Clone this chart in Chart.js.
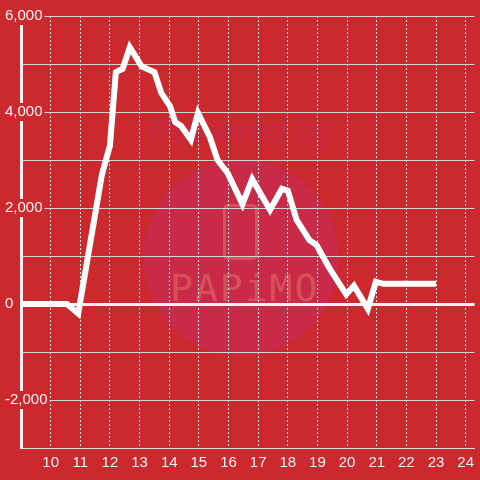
<!DOCTYPE html>
<html>
<head>
<meta charset="utf-8">
<script src="https://cdn.jsdelivr.net/npm/chart.js@4"></script>
<style>
  html, body { margin: 0; padding: 0; background: #cc292e; }
  #wrap { position: relative; width: 480px; height: 480px; overflow: hidden; }
  #mark { position: absolute; left: 0; top: 0; width: 480px; height: 480px; }
  #mark .circle { position: absolute; left: 143px; top: 160px; width: 196px; height: 196px; border-radius: 50%; background: #c92a47; }
  #mark .by { position: absolute; left: 150px; top: 112px; font: italic bold 33px "Liberation Sans", Arial, sans-serif; color: #c6283f; }
  #mark .icon { position: absolute; left: 223px; top: 204px; width: 29px; height: 50px; border: 3px solid #d6515c; border-radius: 5px; }
  #mark .name { position: absolute; left: 170px; top: 266px; font: 38px "DejaVu Sans Mono", monospace; letter-spacing: 2px; color: #d6515c; }
  canvas { position: absolute; left: 0; top: 0; }
</style>
</head>
<body>
<div id="wrap">
  <div id="mark">
    <div class="circle"></div>
    <div class="by">Powered by</div>
    <div class="icon"></div>
    <div class="name">PAPiMO</div>
  </div>
  <canvas id="chart" width="480" height="480"></canvas>
</div>
<script>
// hours of the day and values
const hours = [8.85, 10.55, 10.93, 11.73, 12.0, 12.2, 12.43, 12.67, 13.07, 13.5, 13.73, 14.03, 14.2, 14.4, 14.73, 14.97, 15.37, 15.63, 15.97, 16.47, 16.8, 17.4, 17.8, 18.0, 18.3, 18.73, 18.97, 19.4, 19.97, 20.23, 20.7, 20.97, 21.23, 23.0];
const values = [0, 0, -200, 2700, 3300, 4830, 4900, 5350, 4950, 4830, 4400, 4120, 3790, 3710, 3420, 3980, 3480, 3000, 2730, 2080, 2600, 1960, 2400, 2360, 1750, 1330, 1230, 750, 200, 380, -100, 460, 420, 420];
const yMin = -3000;
const yMax = 6000;
const xMin = 9;
const xMax = 24.3;

const points = hours.map((h, i) => ({ x: h, y: values[i] }));
const labelColor = '#f2f2f2';
const bg = '#cc292e';

new Chart(document.getElementById('chart'), {
  type: 'line',
  data: {
    datasets: [{
      data: points,
      borderColor: '#ffffff',
      borderWidth: 6,
      pointRadius: 0,
      tension: 0,
      fill: false
    }]
  },
  options: {
    responsive: false,
    animation: false,
    layout: { padding: { left: 4, top: 16, right: 0, bottom: 0 } },
    plugins: { legend: { display: false }, tooltip: { enabled: false } },
    scales: {
      x: {
        type: 'linear',
        min: xMin,
        max: xMax,
        afterFit: s => { s.height = 32; },
        grid: { color: 'rgba(255,255,255,0.85)', lineWidth: 1, drawTicks: false },
        border: { color: '#dddddd', width: 1, dash: [2, 2] },
        ticks: {
          stepSize: 1,
          includeBounds: false,
          autoSkip: false,
          maxRotation: 0,
          padding: 6,
          color: labelColor,
          font: { family: '"Liberation Sans", Arial, sans-serif', size: 15 },
          callback: v => (v === xMin ? '' : v)
        }
      },
      y: {
        min: yMin,
        max: yMax,
        afterFit: s => { s.width = 17; },
        grid: {
          drawTicks: false,
          color: ctx => (ctx.tick && ctx.tick.value === 0 ? '#f4f4f4' : '#d4d4d4'),
          lineWidth: ctx => (ctx.tick && ctx.tick.value === 0 ? 3 : 1)
        },
        border: { color: '#f4f4f4', width: 3 },
        ticks: {
          stepSize: 1000,
          autoSkip: false,
          mirror: true,
          padding: -16,
          color: labelColor,
          font: { family: '"Liberation Sans", Arial, sans-serif', size: 15 },
          showLabelBackdrop: true,
          backdropColor: bg,
          backdropPadding: { left: 0, right: 2, top: 0, bottom: 0 },
          callback: v => (v % 2000 === 0 ? v.toLocaleString('en-US') : '')
        }
      }
    }
  }
});
</script>
</body>
</html>
